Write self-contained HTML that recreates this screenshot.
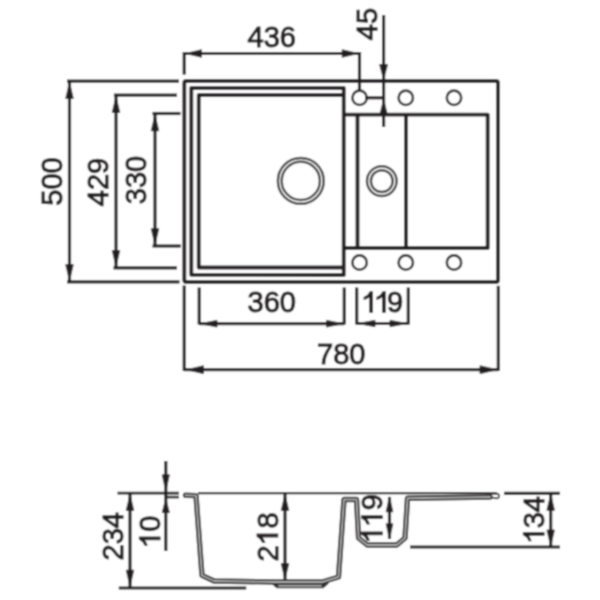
<!DOCTYPE html>
<html><head><meta charset="utf-8"><style>
html,body{margin:0;padding:0;background:#fff;width:600px;height:600px;overflow:hidden}
svg{display:block}
text{font-family:"Liberation Sans", sans-serif;fill:#231f20;stroke:#231f20;stroke-width:1.1px}
</style></head><body>
<svg width="600" height="600" viewBox="0 0 600 600">
<defs><filter id="soft" x="0" y="0" width="600" height="600" filterUnits="userSpaceOnUse"><feConvolveMatrix order="5" kernelMatrix="0.000481 0.005011 0.010945 0.005011 0.000481 0.005011 0.052218 0.114054 0.052218 0.005011 0.010945 0.114054 0.249117 0.114054 0.010945 0.005011 0.052218 0.114054 0.052218 0.005011 0.000481 0.005011 0.010945 0.005011 0.000481" edgeMode="duplicate"/></filter></defs>
<g filter="url(#soft)">
<rect x="0" y="0" width="600" height="600" fill="#fff"/>
<rect x="184.3" y="81" width="313.7" height="201" rx="2" fill="none" stroke="#231f20" stroke-width="3.9"/>
<path d="M343.75,275 L343.75,88 L191.3,88 L191.3,274.8 Z" fill="none" stroke="#231f20" stroke-width="3.9" stroke-linejoin="round"/>
<path d="M343.75,95 L198.75,95 L198.75,267.5 L343.75,267.5" fill="none" stroke="#231f20" stroke-width="3.9" stroke-linejoin="round"/>
<path d="M343.75,114.6 L487.7,114.6 L487.7,248 L343.75,248" fill="none" stroke="#231f20" stroke-width="3.9" stroke-linejoin="round"/>
<line x1="357.5" y1="114.6" x2="357.5" y2="248" stroke="#231f20" stroke-width="3.9"/>
<line x1="406" y1="114.6" x2="406" y2="248" stroke="#231f20" stroke-width="3.9"/>
<circle cx="359.6" cy="97.8" r="7.2" fill="none" stroke="#3a3637" stroke-width="2.6"/>
<circle cx="359.6" cy="262.6" r="7.2" fill="none" stroke="#3a3637" stroke-width="2.6"/>
<circle cx="405.8" cy="97.8" r="7.2" fill="none" stroke="#3a3637" stroke-width="2.6"/>
<circle cx="405.8" cy="262.6" r="7.2" fill="none" stroke="#3a3637" stroke-width="2.6"/>
<circle cx="454" cy="97.8" r="7.2" fill="none" stroke="#3a3637" stroke-width="2.6"/>
<circle cx="454" cy="262.6" r="7.2" fill="none" stroke="#3a3637" stroke-width="2.6"/>
<circle cx="300.8" cy="180.9" r="22.9" fill="none" stroke="#4a4647" stroke-width="2.5"/>
<circle cx="300.8" cy="180.9" r="19.1" fill="none" stroke="#4a4647" stroke-width="2.5"/>
<circle cx="381.8" cy="181.1" r="14.8" fill="none" stroke="#4a4647" stroke-width="2.5"/>
<circle cx="381.8" cy="181.1" r="10.9" fill="none" stroke="#4a4647" stroke-width="2.5"/>
<line x1="184.2" y1="52" x2="184.2" y2="74.6" stroke="#231f20" stroke-width="3.2"/>
<line x1="359.5" y1="52" x2="359.5" y2="91" stroke="#231f20" stroke-width="3.2"/>
<line x1="184.2" y1="53.5" x2="359.5" y2="53.5" stroke="#231f20" stroke-width="3.2"/>
<polygon points="185.50,53.50 201.50,49.70 201.50,57.30" fill="#231f20" stroke="#231f20" stroke-width="0.8" stroke-linejoin="round"/>
<polygon points="358.20,53.50 342.20,49.70 342.20,57.30" fill="#231f20" stroke="#231f20" stroke-width="0.8" stroke-linejoin="round"/>
<text x="271.7" y="47" text-anchor="middle" font-size="29">436</text>
<line x1="383.6" y1="15" x2="383.6" y2="127" stroke="#231f20" stroke-width="3.2"/>
<polygon points="383.60,79.50 379.60,64.50 387.60,64.50" fill="#231f20" stroke="#231f20" stroke-width="0.8" stroke-linejoin="round"/>
<polygon points="383.60,99.50 380.10,113.50 387.10,113.50" fill="#231f20" stroke="#231f20" stroke-width="0.8" stroke-linejoin="round"/>
<line x1="365" y1="97.8" x2="384" y2="97.8" stroke="#231f20" stroke-width="3.2"/>
<text transform="translate(376.7,24) rotate(-90)" text-anchor="middle" font-size="29">45</text>
<line x1="67" y1="81.2" x2="179" y2="81.2" stroke="#231f20" stroke-width="3.2"/>
<line x1="67" y1="281.9" x2="179.5" y2="281.9" stroke="#231f20" stroke-width="3.2"/>
<line x1="69.5" y1="81.2" x2="69.5" y2="281.9" stroke="#231f20" stroke-width="3.2"/>
<polygon points="69.50,82.50 65.70,98.50 73.30,98.50" fill="#231f20" stroke="#231f20" stroke-width="0.8" stroke-linejoin="round"/>
<polygon points="69.50,280.60 65.70,264.60 73.30,264.60" fill="#231f20" stroke="#231f20" stroke-width="0.8" stroke-linejoin="round"/>
<text transform="translate(61.7,181.5) rotate(-90)" text-anchor="middle" font-size="29">500</text>
<line x1="113.9" y1="95.2" x2="177" y2="95.2" stroke="#231f20" stroke-width="3.2"/>
<line x1="113.5" y1="267.8" x2="177" y2="267.8" stroke="#231f20" stroke-width="3.2"/>
<line x1="116" y1="95.2" x2="116" y2="267.8" stroke="#231f20" stroke-width="3.2"/>
<polygon points="116.00,96.50 112.20,112.50 119.80,112.50" fill="#231f20" stroke="#231f20" stroke-width="0.8" stroke-linejoin="round"/>
<polygon points="116.00,266.50 112.20,250.50 119.80,250.50" fill="#231f20" stroke="#231f20" stroke-width="0.8" stroke-linejoin="round"/>
<text transform="translate(108,182) rotate(-90)" text-anchor="middle" font-size="29">429</text>
<line x1="152.5" y1="113.5" x2="180.5" y2="113.5" stroke="#231f20" stroke-width="3.2"/>
<line x1="152.5" y1="246" x2="180.8" y2="246" stroke="#231f20" stroke-width="3.2"/>
<line x1="155" y1="113.5" x2="155" y2="246" stroke="#231f20" stroke-width="3.2"/>
<polygon points="155.00,114.80 151.20,130.80 158.80,130.80" fill="#231f20" stroke="#231f20" stroke-width="0.8" stroke-linejoin="round"/>
<polygon points="155.00,244.70 151.20,228.70 158.80,228.70" fill="#231f20" stroke="#231f20" stroke-width="0.8" stroke-linejoin="round"/>
<text transform="translate(146.4,180) rotate(-90)" text-anchor="middle" font-size="29">330</text>
<line x1="199.2" y1="287.5" x2="199.2" y2="324.5" stroke="#231f20" stroke-width="3.2"/>
<line x1="344.25" y1="287.5" x2="344.25" y2="324.5" stroke="#231f20" stroke-width="3.2"/>
<line x1="199.2" y1="323.7" x2="344.25" y2="323.7" stroke="#231f20" stroke-width="3.2"/>
<polygon points="200.50,323.70 217.00,320.30 217.00,327.10" fill="#231f20" stroke="#231f20" stroke-width="0.8" stroke-linejoin="round"/>
<polygon points="343.00,323.70 326.50,320.30 326.50,327.10" fill="#231f20" stroke="#231f20" stroke-width="0.8" stroke-linejoin="round"/>
<text x="271.8" y="312" text-anchor="middle" font-size="29">360</text>
<line x1="356.7" y1="287.5" x2="356.7" y2="324.5" stroke="#231f20" stroke-width="3.2"/>
<line x1="408.3" y1="287.5" x2="408.3" y2="324.5" stroke="#231f20" stroke-width="3.2"/>
<line x1="356.7" y1="323.5" x2="408.3" y2="323.5" stroke="#231f20" stroke-width="3.2"/>
<polygon points="358.00,323.50 375.00,320.25 375.00,326.75" fill="#231f20" stroke="#231f20" stroke-width="0.8" stroke-linejoin="round"/>
<polygon points="407.00,323.50 390.00,320.25 390.00,326.75" fill="#231f20" stroke="#231f20" stroke-width="0.8" stroke-linejoin="round"/>
<path transform="translate(371.1,312.3)" d="M1.35,0 L1.35,-20.6 L-0.9,-20.6 C-1.9,-18.4 -4.2,-16 -6.9,-15.1 L-6.9,-13.0 C-4.8,-13.6 -2.8,-14.8 -1.35,-16.3 L-1.35,0 Z" fill="#231f20" stroke="#231f20" stroke-width="1.1"/>
<path transform="translate(383.9,312.3)" d="M1.35,0 L1.35,-20.6 L-0.9,-20.6 C-1.9,-18.4 -4.2,-16 -6.9,-15.1 L-6.9,-13.0 C-4.8,-13.6 -2.8,-14.8 -1.35,-16.3 L-1.35,0 Z" fill="#231f20" stroke="#231f20" stroke-width="1.1"/>
<text transform="translate(395,312.3)" x="0" y="0" text-anchor="middle" font-size="29">9</text>
<line x1="184.2" y1="285.5" x2="184.2" y2="371" stroke="#231f20" stroke-width="3.2"/>
<line x1="498.3" y1="285.8" x2="498.3" y2="370.8" stroke="#231f20" stroke-width="3.2"/>
<line x1="184.2" y1="369.7" x2="498.3" y2="369.7" stroke="#231f20" stroke-width="3.2"/>
<polygon points="186.50,369.70 203.50,365.70 203.50,373.70" fill="#231f20" stroke="#231f20" stroke-width="0.8" stroke-linejoin="round"/>
<polygon points="497.00,369.70 480.00,365.70 480.00,373.70" fill="#231f20" stroke="#231f20" stroke-width="0.8" stroke-linejoin="round"/>
<text x="341.3" y="364" text-anchor="middle" font-size="29">780</text>
<line x1="117.5" y1="493.1" x2="179" y2="493.1" stroke="#231f20" stroke-width="2.6"/>
<line x1="165.5" y1="497.1" x2="179" y2="497.1" stroke="#231f20" stroke-width="2.6"/>
<line x1="504" y1="493.3" x2="560" y2="493.3" stroke="#231f20" stroke-width="3.2"/>
<line x1="410" y1="547" x2="560" y2="547" stroke="#231f20" stroke-width="3.2"/>
<line x1="118.75" y1="588" x2="246.25" y2="588" stroke="#231f20" stroke-width="3.2"/>
<line x1="130" y1="493" x2="130" y2="587.6" stroke="#231f20" stroke-width="3.2"/>
<polygon points="130.00,494.50 126.20,510.50 133.80,510.50" fill="#231f20" stroke="#231f20" stroke-width="0.8" stroke-linejoin="round"/>
<polygon points="130.00,586.20 126.20,570.20 133.80,570.20" fill="#231f20" stroke="#231f20" stroke-width="0.8" stroke-linejoin="round"/>
<text transform="translate(123.4,536.3) rotate(-90)" text-anchor="middle" font-size="29">234</text>
<line x1="165.8" y1="461" x2="165.8" y2="551" stroke="#231f20" stroke-width="3.2"/>
<polygon points="165.80,491.30 162.20,474.80 169.40,474.80" fill="#231f20" stroke="#231f20" stroke-width="0.8" stroke-linejoin="round"/>
<polygon points="165.80,498.60 162.20,512.60 169.40,512.60" fill="#231f20" stroke="#231f20" stroke-width="0.8" stroke-linejoin="round"/>
<path transform="translate(160,538.3) rotate(-90)" d="M1.35,0 L1.35,-20.6 L-0.9,-20.6 C-1.9,-18.4 -4.2,-16 -6.9,-15.1 L-6.9,-13.0 C-4.8,-13.6 -2.8,-14.8 -1.35,-16.3 L-1.35,0 Z" fill="#231f20" stroke="#231f20" stroke-width="1.1"/>
<text transform="translate(160,523.65) rotate(-90)" x="0" y="0" text-anchor="middle" font-size="29">0</text>
<line x1="285" y1="493" x2="285" y2="580.8" stroke="#231f20" stroke-width="3.2"/>
<polygon points="285.00,494.50 281.20,510.50 288.80,510.50" fill="#231f20" stroke="#231f20" stroke-width="0.8" stroke-linejoin="round"/>
<polygon points="285.00,579.50 281.20,563.50 288.80,563.50" fill="#231f20" stroke="#231f20" stroke-width="0.8" stroke-linejoin="round"/>
<text transform="translate(277.7,553.5) rotate(-90)" x="0" y="0" text-anchor="middle" font-size="29">2</text>
<path transform="translate(277.7,535.5) rotate(-90)" d="M1.35,0 L1.35,-20.6 L-0.9,-20.6 C-1.9,-18.4 -4.2,-16 -6.9,-15.1 L-6.9,-13.0 C-4.8,-13.6 -2.8,-14.8 -1.35,-16.3 L-1.35,0 Z" fill="#231f20" stroke="#231f20" stroke-width="1.1"/>
<text transform="translate(277.7,520.5) rotate(-90)" x="0" y="0" text-anchor="middle" font-size="29">8</text>
<line x1="389.5" y1="497" x2="389.5" y2="539" stroke="#231f20" stroke-width="3.2"/>
<polygon points="389.50,496.80 386.10,511.80 392.90,511.80" fill="#231f20" stroke="#231f20" stroke-width="0.8" stroke-linejoin="round"/>
<polygon points="389.50,538.80 386.10,523.80 392.90,523.80" fill="#231f20" stroke="#231f20" stroke-width="0.8" stroke-linejoin="round"/>
<path transform="translate(382.2,533.3) rotate(-90)" d="M1.35,0 L1.35,-20.6 L-0.9,-20.6 C-1.9,-18.4 -4.2,-16 -6.9,-15.1 L-6.9,-13.0 C-4.8,-13.6 -2.8,-14.8 -1.35,-16.3 L-1.35,0 Z" fill="#231f20" stroke="#231f20" stroke-width="1.1"/>
<path transform="translate(382.2,517.1) rotate(-90)" d="M1.35,0 L1.35,-20.6 L-0.9,-20.6 C-1.9,-18.4 -4.2,-16 -6.9,-15.1 L-6.9,-13.0 C-4.8,-13.6 -2.8,-14.8 -1.35,-16.3 L-1.35,0 Z" fill="#231f20" stroke="#231f20" stroke-width="1.1"/>
<text transform="translate(382.2,502.3) rotate(-90)" x="0" y="0" text-anchor="middle" font-size="29">9</text>
<line x1="550.7" y1="493" x2="550.7" y2="547.4" stroke="#231f20" stroke-width="3.2"/>
<polygon points="550.70,494.30 546.90,510.30 554.50,510.30" fill="#231f20" stroke="#231f20" stroke-width="0.8" stroke-linejoin="round"/>
<polygon points="550.70,546.00 546.90,530.00 554.50,530.00" fill="#231f20" stroke="#231f20" stroke-width="0.8" stroke-linejoin="round"/>
<path transform="translate(544,533.9) rotate(-90)" d="M1.35,0 L1.35,-20.6 L-0.9,-20.6 C-1.9,-18.4 -4.2,-16 -6.9,-15.1 L-6.9,-13.0 C-4.8,-13.6 -2.8,-14.8 -1.35,-16.3 L-1.35,0 Z" fill="#231f20" stroke="#231f20" stroke-width="1.1"/>
<text transform="translate(544,520.1) rotate(-90)" x="0" y="0" text-anchor="middle" font-size="29">3</text>
<text transform="translate(544,504.2) rotate(-90)" x="0" y="0" text-anchor="middle" font-size="29">4</text>
<path d="M185.5,495.3 L196,495.6 L202,575.4 L214,581 L274,582 L322,582 L338.5,577 L344,499.5 L356.5,499.5 L358.6,538 L367.2,545 L396.8,545 L405,538 L407.5,498.2 L490,497" fill="none" stroke="#2e2a2b" stroke-width="5.4" stroke-linejoin="round" stroke-linecap="round"/>
<path d="M273.5,582.5 L277.5,585.8 L322.5,585.8 L326.5,582.5" fill="none" stroke="#2e2a2b" stroke-width="4.8" stroke-linejoin="round" stroke-linecap="round"/>
<path d="M185.5,495.3 L196,495.6 L202,575.4 L214,581 L274,582 L322,582 L338.5,577 L344,499.5 L356.5,499.5 L358.6,538 L367.2,545 L396.8,545 L405,538 L407.5,498.2 L490,497" fill="none" stroke="#a8a8a8" stroke-width="1.9" stroke-linejoin="round" stroke-linecap="round"/>
<path d="M279,585.8 L321,585.8" fill="none" stroke="#a8a8a8" stroke-width="1.8" stroke-linecap="round"/>
<line x1="198" y1="493.2" x2="497" y2="493.2" stroke="#231f20" stroke-width="2.3"/>
<path d="M487,493.6 L496.5,493.6 C499.8,493.6 499.8,498.3 496.5,498.3 L492,497.6" fill="none" stroke="#2e2a2b" stroke-width="1.7" stroke-linecap="round" stroke-linejoin="round"/>
</g>
</svg>
</body></html>
